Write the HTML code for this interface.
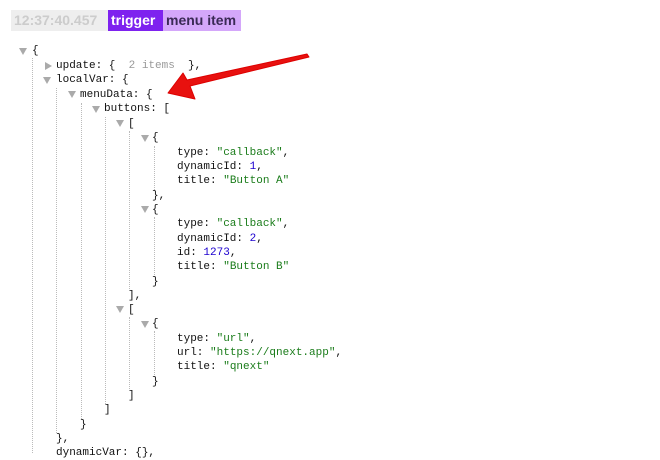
<!DOCTYPE html>
<html><head><meta charset="utf-8"><style>
body{margin:0;width:660px;height:453px;background:#fff;overflow:hidden;position:relative;font-family:"Liberation Mono",monospace;font-size:11px;color:#111}
.hd{position:absolute;top:10px;height:21px;line-height:21px;font-family:"Liberation Sans",sans-serif;font-weight:bold;font-size:14px;padding:0 3px}
.l{position:absolute;white-space:pre;height:14px;line-height:14px}
.t{position:absolute;width:0;height:0;border-left:4px solid transparent;border-right:4px solid transparent;border-top:7px solid #aaa}
.tr{position:absolute;width:0;height:0;border-top:4px solid transparent;border-bottom:4px solid transparent;border-left:7px solid #aaa}
.g{position:absolute;width:0;border-left:1px dotted #bbb}
.s{color:#1a7c1a}.n{color:#1c00cf}.c{color:#999}
</style></head><body>
<div class="hd" style="left:11px;width:91px;background:#eee;color:#ccc">12:37:40.457</div>
<div class="hd" style="left:108px;width:49px;background:#7e22ef;color:#fff">trigger</div>
<div class="hd" style="left:163px;width:72px;background:#d4a7fa;color:#3a2a55">menu item</div>

<div class="g" style="left:32px;top:58px;height:395px"></div>
<div class="g" style="left:56px;top:88px;height:345px"></div>
<div class="g" style="left:81px;top:103px;height:316px"></div>
<div class="g" style="left:105px;top:117px;height:287px"></div>
<div class="g" style="left:129px;top:131px;height:158px"></div>
<div class="g" style="left:154px;top:146px;height:44px"></div>
<div class="g" style="left:154px;top:217px;height:58px"></div>
<div class="g" style="left:129px;top:317px;height:72px"></div>
<div class="g" style="left:154px;top:331px;height:44px"></div>

<div class="t" style="left:19px;top:48px"></div><div class="l" style="left:32px;top:44px">{</div>
<div class="tr" style="left:45px;top:62px"></div><div class="l" style="left:56px;top:59px">update: { <span class="c"> 2 items </span> },</div>
<div class="t" style="left:43px;top:77px"></div><div class="l" style="left:56px;top:73px">localVar: {</div>
<div class="t" style="left:68px;top:91px"></div><div class="l" style="left:80px;top:88px">menuData: {</div>
<div class="t" style="left:92px;top:106px"></div><div class="l" style="left:104px;top:102px">buttons: [</div>
<div class="t" style="left:116px;top:120px"></div><div class="l" style="left:128px;top:117px">[</div>
<div class="t" style="left:141px;top:135px"></div><div class="l" style="left:152px;top:131px">{</div>
<div class="l" style="left:177px;top:146px">type: <span class="s">"callback"</span>,</div>
<div class="l" style="left:177px;top:160px">dynamicId: <span class="n">1</span>,</div>
<div class="l" style="left:177px;top:174px">title: <span class="s">"Button A"</span></div>
<div class="l" style="left:152px;top:189px">},</div>
<div class="t" style="left:141px;top:206px"></div><div class="l" style="left:152px;top:203px">{</div>
<div class="l" style="left:177px;top:217px">type: <span class="s">"callback"</span>,</div>
<div class="l" style="left:177px;top:232px">dynamicId: <span class="n">2</span>,</div>
<div class="l" style="left:177px;top:246px">id: <span class="n">1273</span>,</div>
<div class="l" style="left:177px;top:260px">title: <span class="s">"Button B"</span></div>
<div class="l" style="left:152px;top:275px">}</div>
<div class="l" style="left:128px;top:289px">],</div>
<div class="t" style="left:116px;top:306px"></div><div class="l" style="left:128px;top:303px">[</div>
<div class="t" style="left:141px;top:321px"></div><div class="l" style="left:152px;top:317px">{</div>
<div class="l" style="left:177px;top:332px">type: <span class="s">"url"</span>,</div>
<div class="l" style="left:177px;top:346px">url: <span class="s">"https://qnext.app"</span>,</div>
<div class="l" style="left:177px;top:360px">title: <span class="s">"qnext"</span></div>
<div class="l" style="left:152px;top:375px">}</div>
<div class="l" style="left:128px;top:389px">]</div>
<div class="l" style="left:104px;top:403px">]</div>
<div class="l" style="left:80px;top:418px">}</div>
<div class="l" style="left:56px;top:432px">},</div>
<div class="l" style="left:56px;top:446px">dynamicVar: {},</div>

<svg style="position:absolute;left:0;top:0" width="660" height="453">
<polygon points="307,54 309,57 190,86 195,99 168,93 183,73 187,80" fill="#e8110f" stroke="#d00" stroke-width="1" stroke-linejoin="round"/>
</svg>
</body></html>
